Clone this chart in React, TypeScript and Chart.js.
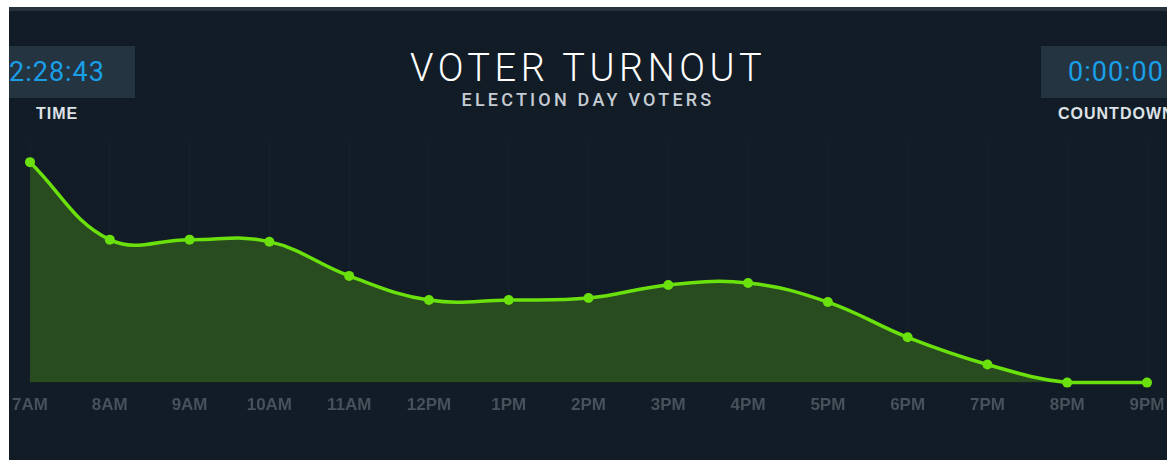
import React, { useEffect, useRef } from "react";
import { Chart, registerables } from "chart.js";

Chart.register(...registerables);

const hours = ["7AM", "8AM", "9AM", "10AM", "11AM", "12PM", "1PM", "2PM", "3PM", "4PM", "5PM", "6PM", "7PM", "8PM", "9PM"];
const voters = [219, 142, 142, 140, 106, 82, 82, 84, 97, 99, 80, 45, 18, 0, 0];
const yMin = 0;
const yMax = 240;

const titleText = "VOTER TURNOUT";
const subtitleText = "ELECTION DAY VOTERS";
const timeValue = "2:28:43";
const timeLabel = "TIME";
const countdownValue = "0:00:00";
const countdownLabel = "COUNTDOWN";

export default function App() {
  const canvasRef = useRef<HTMLCanvasElement | null>(null);

  useEffect(() => {
    if (!canvasRef.current) return;
    const chart = new Chart(canvasRef.current, {
      type: "line",
      data: {
        labels: hours,
        datasets: [
          {
            data: voters,
            borderColor: "#6ae00c",
            backgroundColor: "#284b20",
            fill: "origin",
            tension: 0.4,
            borderWidth: 3.5,
            pointRadius: 5,
            pointBackgroundColor: "#6ae00c",
            pointBorderWidth: 0,
            clip: false,
          },
        ],
      },
      options: {
        animation: false,
        responsive: false,
        maintainAspectRatio: false,
        layout: { padding: { left: 21, right: 20, top: 0, bottom: 0 } },
        plugins: { legend: { display: false }, tooltip: { enabled: false } },
        scales: {
          x: {
            afterFit: (scale: any) => {
              scale.paddingLeft = 0;
              scale.paddingRight = 0;
            },
            grid: { color: "rgba(255,255,255,0.022)", drawTicks: false },
            border: { display: false },
            ticks: {
              color: "#47515b",
              padding: 13,
              maxRotation: 0,
              autoSkip: false,
              font: { family: "'Liberation Sans', Arial, sans-serif", size: 17, weight: "bold" },
            },
          },
          y: { display: false, min: yMin, max: yMax },
        },
      },
    });
    return () => chart.destroy();
  }, []);

  const boxStyle: React.CSSProperties = {
    position: "absolute",
    top: 39,
    width: 156,
    height: 52,
    background: "#243441",
    boxSizing: "border-box",
    fontFamily: "Roboto, sans-serif",
    fontSize: 27,
    color: "#1a9fe6",
    lineHeight: "52px",
    letterSpacing: 1,
    whiteSpace: "nowrap",
  };
  const labelStyle: React.CSSProperties = {
    position: "absolute",
    top: 98,
    fontFamily: "'Liberation Sans', Arial, sans-serif",
    fontWeight: "bold",
    fontSize: 16,
    color: "#dde2e6",
    whiteSpace: "nowrap",
    letterSpacing: 1,
  };

  return (
    <div
      style={{
        position: "absolute",
        left: 9,
        top: 7,
        width: 1158,
        height: 453,
        background: "#121c26",
        overflow: "hidden",
      }}
    >
      <div style={{ position: "absolute", left: 0, top: 0, width: "100%", height: 4, background: "#26323e" }} />
      <div style={{ ...boxStyle, left: -30, paddingLeft: 30 }}>{timeValue}</div>
      <div style={{ ...labelStyle, left: 27 }}>{timeLabel}</div>
      <div style={{ ...boxStyle, left: 1032, paddingLeft: 27 }}>{countdownValue}</div>
      <div style={{ ...labelStyle, left: 1049 }}>{countdownLabel}</div>
      <div
        style={{
          position: "absolute",
          left: 0,
          width: 1158,
          top: 38,
          textAlign: "center",
          fontFamily: "Roboto, sans-serif",
          fontWeight: 300,
          fontSize: 38,
          color: "#ffffff",
          letterSpacing: 4.5,
          lineHeight: "46px",
        }}
      >
        {titleText}
      </div>
      <div
        style={{
          position: "absolute",
          left: 0,
          width: 1158,
          top: 82,
          textAlign: "center",
          fontFamily: "Roboto, sans-serif",
          fontWeight: 500,
          fontSize: 18,
          color: "#c5ccd3",
          letterSpacing: 3.2,
          lineHeight: "22px",
        }}
      >
        {subtitleText}
      </div>
      <canvas
        ref={canvasRef}
        width={1158}
        height={293}
        style={{ position: "absolute", left: 0, top: 129, width: 1158, height: 293 }}
      />
    </div>
  );
}
